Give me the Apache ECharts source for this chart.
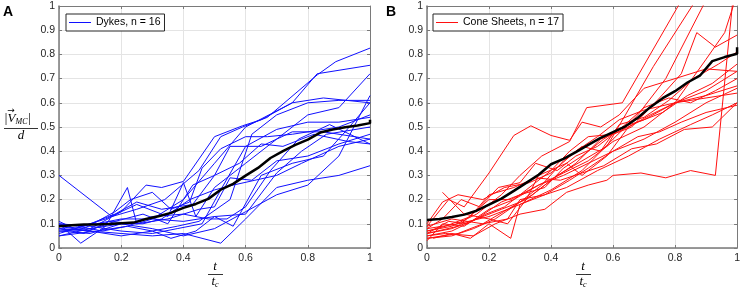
<!DOCTYPE html>
<html>
<head>
<meta charset="UTF-8">
<title>VMC / d over t / tc</title>
<script src="https://cdn.jsdelivr.net/npm/echarts@6/dist/echarts.min.js"></script>
<style>
html,body{margin:0;padding:0;background:#fff;}
#chart{width:743px;height:290px;}
</style>
</head>
<body>
<div id="chart"></div>
<script>
// normalised time samples used by the two mean curves
var meanT = [0,0.04,0.08,0.12,0.16,0.2,0.24,0.28,0.32,0.36,0.4,0.44,0.48,0.52,0.56,0.6,0.64,0.68,0.72,0.76,0.8,0.84,0.88,0.92,0.96,1,1];
var dykeMean = [0.090,0.094,0.097,0.097,0.099,0.102,0.105,0.120,0.131,0.145,0.166,0.182,0.203,0.241,0.265,0.299,0.331,0.372,0.400,0.426,0.448,0.477,0.490,0.499,0.506,0.516,0.53];
var coneMean = [0.116,0.120,0.128,0.138,0.154,0.179,0.204,0.236,0.269,0.303,0.346,0.368,0.396,0.426,0.455,0.479,0.503,0.538,0.582,0.619,0.648,0.684,0.712,0.772,0.789,0.803,0.83];

// individual dykes, [t/tc, |Vmc|/d]
var dykes = [
  [[0,0.30],[0.17,0.13],[0.25,0.16],[0.34,0.20],[0.45,0.32],[0.52,0.46],[0.59,0.50],[0.67,0.54],[0.83,0.715],[0.89,0.77],[1,0.826]],
  [[0,0.10],[0.07,0.02],[0.15,0.09],[0.22,0.25],[0.25,0.10],[0.30,0.12],[0.40,0.20],[0.50,0.35],[0.60,0.50],[0.75,0.60],[0.83,0.72],[1,0.755]],
  [[0,0.05],[0.10,0.08],[0.20,0.15],[0.28,0.26],[0.33,0.25],[0.40,0.275],[0.50,0.46],[0.59,0.505],[0.65,0.53],[0.75,0.60],[0.85,0.62],[1,0.60]],
  [[0,0.11],[0.05,0.08],[0.15,0.12],[0.25,0.18],[0.35,0.13],[0.40,0.27],[0.44,0.13],[0.50,0.25],[0.60,0.35],[0.70,0.45],[0.80,0.55],[0.90,0.58],[1,0.72]],
  [[0,0.08],[0.10,0.07],[0.20,0.06],[0.30,0.05],[0.40,0.06],[0.52,0.02],[0.60,0.12],[0.70,0.25],[0.80,0.28],[0.90,0.30],[1,0.34]],
  [[0,0.09],[0.12,0.10],[0.20,0.12],[0.30,0.12],[0.40,0.11],[0.50,0.13],[0.56,0.09],[0.65,0.30],[0.75,0.35],[0.85,0.38],[0.92,0.48],[1,0.60]],
  [[0,0.07],[0.10,0.06],[0.20,0.10],[0.30,0.08],[0.40,0.05],[0.50,0.08],[0.60,0.15],[0.70,0.22],[0.80,0.26],[0.90,0.38],[1,0.63]],
  [[0,0.06],[0.08,0.09],[0.18,0.14],[0.25,0.19],[0.33,0.16],[0.43,0.18],[0.50,0.30],[0.55,0.42],[0.65,0.42],[0.75,0.48],[0.85,0.48],[1,0.45]],
  [[0,0.10],[0.10,0.09],[0.20,0.07],[0.30,0.06],[0.38,0.08],[0.46,0.10],[0.52,0.24],[0.60,0.42],[0.70,0.49],[0.80,0.52],[0.90,0.52],[1,0.54]],
  [[0,0.08],[0.08,0.06],[0.16,0.11],[0.25,0.10],[0.35,0.12],[0.45,0.16],[0.50,0.17],[0.55,0.29],[0.62,0.28],[0.70,0.36],[0.80,0.38],[0.90,0.43],[1,0.47]],
  [[0,0.10],[0.06,0.09],[0.14,0.07],[0.22,0.09],[0.30,0.13],[0.40,0.14],[0.48,0.12],[0.54,0.12],[0.60,0.17],[0.68,0.32],[0.77,0.45],[0.87,0.51],[1,0.43]],
  [[0,0.07],[0.10,0.08],[0.20,0.10],[0.27,0.10],[0.33,0.12],[0.42,0.20],[0.50,0.24],[0.56,0.26],[0.63,0.28],[0.70,0.30],[0.78,0.35],[0.90,0.42],[1,0.45]],
  [[0,0.09],[0.09,0.07],[0.18,0.11],[0.27,0.14],[0.35,0.10],[0.43,0.26],[0.50,0.30],[0.58,0.35],[0.65,0.43],[0.72,0.42],[0.82,0.47],[0.93,0.44],[1,0.43]],
  [[0,0.08],[0.10,0.07],[0.20,0.05],[0.30,0.07],[0.36,0.04],[0.44,0.07],[0.50,0.13],[0.60,0.14],[0.70,0.31],[0.78,0.40],[0.86,0.47],[1,0.50]],
  [[0,0.05],[0.12,0.07],[0.22,0.09],[0.30,0.07],[0.38,0.09],[0.45,0.11],[0.55,0.20],[0.62,0.47],[0.70,0.55],[0.80,0.60],[0.90,0.61],[1,0.61]],
  [[0,0.09],[0.08,0.08],[0.18,0.15],[0.23,0.20],[0.30,0.23],[0.36,0.16],[0.42,0.19],[0.46,0.33],[0.52,0.41],[0.60,0.46],[0.67,0.46],[0.75,0.47],[0.90,0.50],[1,0.55]]
];

// individual cone sheets
var coneSheets = [
  [[0,0.05],[0.06,0.06],[0.15,0.05],[0.22,0.10],[0.30,0.14],[0.38,0.16],[0.45,0.23],[0.52,0.26],[0.58,0.28],[0.60,0.30],[0.69,0.31],[0.77,0.29],[0.85,0.32],[0.93,0.30],[1,1.2]],
  [[0,0.07],[0.08,0.09],[0.16,0.14],[0.24,0.22],[0.30,0.30],[0.37,0.38],[0.46,0.44],[0.515,0.58],[0.63,0.60],[0.81,1.0],[0.85,1.1]],
  [[0,0.04],[0.10,0.06],[0.18,0.10],[0.26,0.16],[0.34,0.22],[0.42,0.30],[0.50,0.36],[0.58,0.42],[0.64,0.55],[0.73,0.75],[0.855,1.0],[0.90,1.1]],
  [[0,0.09],[0.07,0.20],[0.12,0.17],[0.20,0.31],[0.28,0.465],[0.335,0.505],[0.40,0.465],[0.46,0.445],[0.50,0.52],[0.56,0.50],[0.62,0.55],[0.70,0.66],[0.80,0.70],[0.90,0.74],[1,0.73]],
  [[0,0.06],[0.08,0.08],[0.16,0.12],[0.24,0.16],[0.32,0.20],[0.40,0.28],[0.48,0.35],[0.56,0.45],[0.66,0.50],[0.75,0.62],[0.82,0.72],[0.87,0.89],[0.93,0.83],[1,0.88]],
  [[0,0.03],[0.05,0.10],[0.12,0.09],[0.20,0.16],[0.28,0.20],[0.36,0.26],[0.44,0.31],[0.52,0.36],[0.60,0.44],[0.70,0.50],[0.80,0.60],[0.90,0.78],[0.96,0.89],[1,1.05]],
  [[0,0.08],[0.10,0.10],[0.20,0.13],[0.30,0.18],[0.40,0.24],[0.50,0.32],[0.60,0.45],[0.68,0.55],[0.77,0.70],[0.89,1.0],[0.92,1.08]],
  [[0,0.09],[0.08,0.12],[0.18,0.10],[0.26,0.12],[0.30,0.20],[0.38,0.22],[0.45,0.25],[0.55,0.32],[0.65,0.38],[0.75,0.45],[0.85,0.51],[0.92,0.55],[1,0.60]],
  [[0,0.06],[0.10,0.09],[0.20,0.20],[0.27,0.20],[0.36,0.26],[0.44,0.30],[0.52,0.35],[0.60,0.40],[0.70,0.45],[0.80,0.52],[0.90,0.60],[1,0.66]],
  [[0,0.10],[0.05,0.19],[0.10,0.22],[0.18,0.20],[0.25,0.25],[0.33,0.27],[0.40,0.31],[0.48,0.40],[0.55,0.46],[0.62,0.53],[0.70,0.57],[0.80,0.60],[0.90,0.63],[1,0.67]],
  [[0,0.05],[0.08,0.07],[0.16,0.12],[0.24,0.19],[0.30,0.22],[0.38,0.25],[0.44,0.33],[0.50,0.38],[0.57,0.45],[0.63,0.50],[0.70,0.53],[0.80,0.60],[0.90,0.65],[1,0.73]],
  [[0.05,0.23],[0.12,0.14],[0.20,0.12],[0.26,0.10],[0.32,0.20],[0.36,0.30],[0.45,0.35],[0.50,0.30],[0.58,0.38],[0.65,0.50],[0.72,0.55],[0.80,0.60],[0.90,0.62],[1,0.64]],
  [[0.02,0.04],[0.08,0.06],[0.14,0.04],[0.20,0.10],[0.27,0.04],[0.30,0.18],[0.38,0.22],[0.46,0.28],[0.52,0.33],[0.60,0.40],[0.68,0.46],[0.75,0.48],[0.82,0.52],[0.90,0.56],[1,0.59]],
  [[0,0.07],[0.06,0.09],[0.14,0.13],[0.20,0.22],[0.28,0.25],[0.35,0.29],[0.43,0.28],[0.50,0.31],[0.57,0.34],[0.66,0.41],[0.74,0.43],[0.83,0.49],[0.92,0.50],[1,0.60]],
  [[0,0.04],[0.08,0.05],[0.15,0.08],[0.22,0.12],[0.30,0.19],[0.37,0.26],[0.44,0.36],[0.50,0.42],[0.56,0.40],[0.62,0.51],[0.70,0.54],[0.78,0.61],[0.86,0.70],[0.94,0.76],[1,0.81]],
  [[0,0.08],[0.05,0.12],[0.11,0.20],[0.17,0.17],[0.23,0.25],[0.30,0.27],[0.35,0.35],[0.42,0.32],[0.48,0.38],[0.55,0.42],[0.63,0.50],[0.70,0.58],[0.78,0.62],[0.85,0.60],[0.93,0.65],[1,0.70]],
  [[0,0.06],[0.07,0.11],[0.13,0.10],[0.19,0.14],[0.25,0.17],[0.32,0.24],[0.40,0.32],[0.46,0.40],[0.52,0.46],[0.60,0.47],[0.68,0.52],[0.76,0.56],[0.84,0.63],[0.92,0.68],[1,0.76]]
];

var dykeName = 'Dykes, n = 16';
var coneName = 'Cone Sheets, n = 17';

var chart = echarts.init(document.getElementById('chart'));

var labelFont = 'Liberation Sans';
var axisGrey = '#7a7a7a';

function bottomX(idx){
  return {
    type:'value', gridIndex:idx, min:0, max:1, interval:0.2, position:'bottom',
    axisLine:{show:true, onZero:false, lineStyle:{color:axisGrey, width:1.5}},
    axisTick:{show:true, inside:true, length:3, lineStyle:{color:axisGrey}},
    axisLabel:{margin:5, fontSize:10.5, color:'#262626', fontFamily:labelFont},
    splitLine:{show:true, lineStyle:{color:'#e4e4e4', width:1}}
  };
}
function topX(idx){
  return {
    type:'value', gridIndex:idx, min:0, max:1, interval:0.2, position:'top',
    axisLine:{show:true, onZero:false, lineStyle:{color:axisGrey, width:1}},
    axisTick:{show:true, inside:true, length:3, lineStyle:{color:axisGrey}},
    axisLabel:{show:false}, splitLine:{show:false}
  };
}
function leftY(idx){
  return {
    type:'value', gridIndex:idx, min:0, max:1, interval:0.1, position:'left',
    axisLine:{show:true, onZero:false, lineStyle:{color:axisGrey, width:1.5}},
    axisTick:{show:true, inside:true, length:3, lineStyle:{color:axisGrey}},
    axisLabel:{margin:4, fontSize:10.5, color:'#262626', fontFamily:labelFont},
    splitLine:{show:true, lineStyle:{color:'#e4e4e4', width:1}}
  };
}
function rightY(idx){
  return {
    type:'value', gridIndex:idx, min:0, max:1, interval:0.1, position:'right',
    axisLine:{show:true, onZero:false, lineStyle:{color:axisGrey, width:1}},
    axisTick:{show:true, inside:true, length:3, lineStyle:{color:axisGrey}},
    axisLabel:{show:false}, splitLine:{show:false}
  };
}

var series = [];
dykes.forEach(function(d){
  series.push({type:'line', name:dykeName, xAxisIndex:0, yAxisIndex:0, data:d,
    symbol:'none', clip:true, silent:true,
    lineStyle:{color:'#1010ff', width:1}, itemStyle:{color:'#1010ff'}});
});
series.push({type:'line', name:'meanA', xAxisIndex:0, yAxisIndex:0,
  data:meanT.map(function(t,i){return [t,dykeMean[i]];}),
  symbol:'none', z:5, lineStyle:{color:'#000', width:2.5}});

coneSheets.forEach(function(d){
  series.push({type:'line', name:coneName, xAxisIndex:2, yAxisIndex:2, data:d,
    symbol:'none', clip:true, silent:true,
    lineStyle:{color:'#ff1010', width:1}, itemStyle:{color:'#ff1010'}});
});
series.push({type:'line', name:'meanB', xAxisIndex:2, yAxisIndex:2,
  data:meanT.map(function(t,i){return [t,coneMean[i]];}),
  symbol:'none', z:5, lineStyle:{color:'#000', width:2.5}});

function legendBox(name, left){
  return {
    data:[name], left:left, top:14, orient:'horizontal',
    backgroundColor:'#fff', borderColor:'#262626', borderWidth:1,
    padding:[3,4,3,3], itemWidth:22, itemHeight:1, itemGap:4, icon:'rect',
    selectedMode:false,
    textStyle:{fontSize:10.5, color:'#000', fontFamily:labelFont, lineHeight:10}
  };
}

var serif = 'italic 13px "Liberation Serif"';
var sub = 'italic 8px "Liberation Serif"';
var graphic = [
  {type:'text', left:3, top:5, style:{text:'A', font:'bold 14px "Liberation Sans"', fill:'#000'}},
  {type:'text', left:386, top:5, style:{text:'B', font:'bold 14px "Liberation Sans"', fill:'#000'}},
  // y title |V_MC| / d
  {type:'text', x:4, y:119, style:{text:'|V{s|MC}|', font:serif, fill:'#000', verticalAlign:'middle',
    rich:{s:{font:sub, fill:'#000', verticalAlign:'bottom', padding:[6,0,0,0]}}}},
  {type:'text', x:11, y:111, style:{text:'\u2192', font:'9px "DejaVu Sans"', fill:'#000', align:'center', verticalAlign:'middle'}},
  {type:'line', shape:{x1:4, y1:128.5, x2:38, y2:128.5}, style:{stroke:'#000', lineWidth:0.8}},
  {type:'text', x:21, y:136, style:{text:'d', font:serif, fill:'#000', align:'center', verticalAlign:'middle'}},
  // x titles t / tc
  {type:'text', x:215, y:267, style:{text:'t', font:serif, fill:'#000', align:'center', verticalAlign:'middle'}},
  {type:'line', shape:{x1:208, y1:274.5, x2:223, y2:274.5}, style:{stroke:'#000', lineWidth:0.8}},
  {type:'text', x:215, y:282, style:{text:'t{s|c}', font:serif, fill:'#000', align:'center', verticalAlign:'middle',
    rich:{s:{font:sub, fill:'#000', verticalAlign:'bottom', padding:[5,0,0,0]}}}},
  {type:'text', x:583, y:267, style:{text:'t', font:serif, fill:'#000', align:'center', verticalAlign:'middle'}},
  {type:'line', shape:{x1:576, y1:274.5, x2:591, y2:274.5}, style:{stroke:'#000', lineWidth:0.8}},
  {type:'text', x:583, y:282, style:{text:'t{s|c}', font:serif, fill:'#000', align:'center', verticalAlign:'middle',
    rich:{s:{font:sub, fill:'#000', verticalAlign:'bottom', padding:[5,0,0,0]}}}}
];

chart.setOption({
  animation:false,
  backgroundColor:'#fff',
  grid:[
    {left:59, top:6, width:311, height:242},
    {left:427, top:6, width:311, height:242}
  ],
  xAxis:[bottomX(0), topX(0), bottomX(1), topX(1)],
  yAxis:[leftY(0), rightY(0), leftY(1), rightY(1)],
  legend:[legendBox(dykeName, 66), legendBox(coneName, 433)],
  graphic:graphic,
  series:series
});
</script>
</body>
</html>
